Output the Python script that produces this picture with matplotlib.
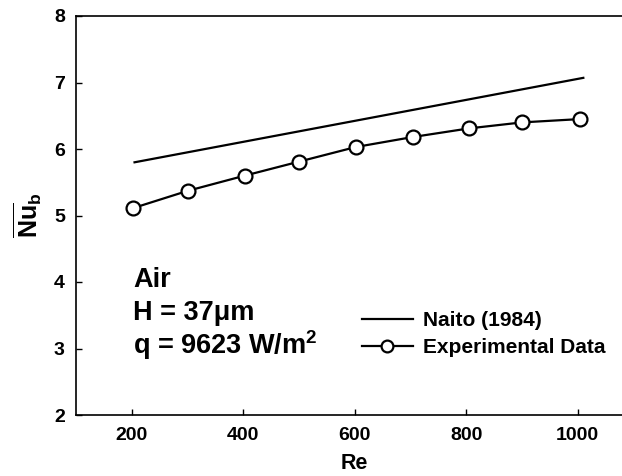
import matplotlib
matplotlib.use("Agg")
import matplotlib.pyplot as plt

plt.rcParams['font.family'] = ['Liberation Sans', 'DejaVu Sans']
plt.rcParams['font.weight'] = 'bold'
plt.rcParams['mathtext.fontset'] = 'custom'
plt.rcParams['mathtext.rm'] = 'Liberation Sans:bold'
plt.rcParams['mathtext.bf'] = 'Liberation Sans:bold'
plt.rcParams['mathtext.it'] = 'Liberation Sans:bold'

# Naito (1984) correlation, straight line
naito_re = [205, 1010]
naito_nu = [5.80, 7.07]

# experimental data
exp_re = [202, 300, 403, 500, 602, 704, 805, 900, 1004]
exp_nu = [5.11, 5.37, 5.60, 5.81, 6.03, 6.18, 6.31, 6.40, 6.45]

xticks = [200, 400, 600, 800, 1000]
yticks = [2, 3, 4, 5, 6, 7, 8]

fig = plt.figure(figsize=(6.22, 4.76), dpi=100)
# axes runs past the right edge of the figure, like the cropped original
ax = fig.add_axes([76 / 622, 61 / 476, 557.5 / 622, 399 / 476])

ax.plot(naito_re, naito_nu, color='black', lw=1.6, label='Naito (1984)')
ax.plot(exp_re, exp_nu, color='black', lw=1.6, marker='o', ms=10,
        mfc='white', mec='black', mew=1.6, label='Experimental Data')

ax.set_xlim(100, 1100)
ax.set_ylim(2, 8)
ax.set_xticks(xticks)
ax.set_yticks(yticks)
ax.tick_params(direction='in', length=4, width=1, labelsize=14)
ax.tick_params(axis='y', pad=8)
ax.tick_params(axis='x', pad=9)
for lab in ax.get_xticklabels() + ax.get_yticklabels():
    lab.set_fontweight('bold')
ax.spines['right'].set_visible(False)
for s in ['left', 'bottom', 'top']:
    ax.spines[s].set_linewidth(1.2)

ax.set_xlabel('Re', fontsize=15.5, fontweight='bold', labelpad=6)
ax.set_ylabel(r'$\overline{\mathbf{Nu}}_\mathbf{b}$', fontsize=18, labelpad=7)

fig.text(133 / 622, 1 - 287 / 476, 'Air', fontsize=19.5, fontweight='bold', va='baseline')
fig.text(133 / 622, 1 - 320 / 476, 'H = 37μm', fontsize=19.5, fontweight='bold', va='baseline')
fig.text(133 / 622, 1 - 354 / 476, r'q = 9623 W/m$^\mathbf{2}$', fontsize=19.5,
         fontweight='bold', va='baseline')

leg = ax.legend(loc='center left', bbox_to_anchor=(345 / 622, 1 - 334 / 476),
                bbox_transform=fig.transFigure, frameon=False, fontsize=15,
                handlelength=2.45, handletextpad=0.5, labelspacing=0.4,
                borderpad=0.3, markerscale=0.85)
for t in leg.get_texts():
    t.set_fontweight('bold')

fig.savefig('out.png', dpi=100)
